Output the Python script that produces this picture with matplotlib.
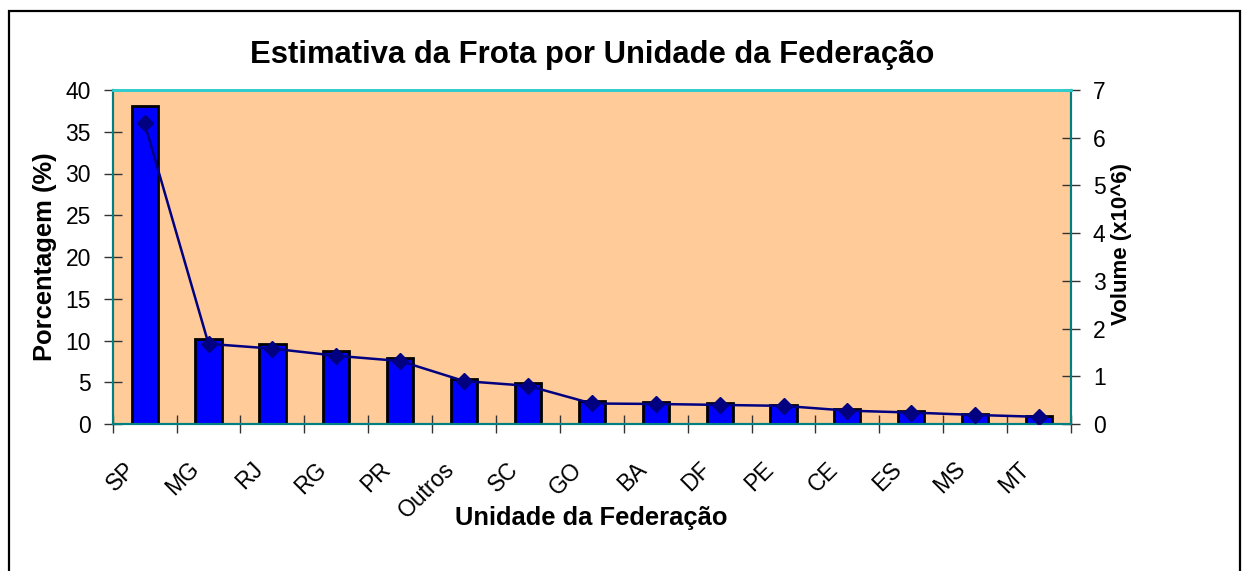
import matplotlib
matplotlib.use("Agg")
import matplotlib.pyplot as plt
from matplotlib.patches import Rectangle
from matplotlib.transforms import ScaledTranslation
import numpy as np

plt.rcParams['font.family'] = ['Liberation Sans', 'DejaVu Sans']

categories = ["SP", "MG", "RJ", "RG", "PR", "Outros", "SC", "GO", "BA", "DF", "PE", "CE", "ES", "MS", "MT"]
percent = [38.1, 10.2, 9.6, 8.7, 7.9, 5.4, 4.9, 2.8, 2.6, 2.5, 2.3, 1.8, 1.5, 1.2, 0.9]
volume = [6.3, 1.68, 1.58, 1.43, 1.32, 0.90, 0.80, 0.43, 0.42, 0.40, 0.38, 0.28, 0.24, 0.19, 0.15]

title = "Estimativa da Frota por Unidade da Federação"
xlabel = "Unidade da Federação"
ylabel_left = "Porcentagem (%)"
ylabel_right = "Volume (x10^6)"

fig = plt.figure(figsize=(12.47, 5.71), dpi=100)
fig.patch.set_facecolor("white")

W, H = 1247, 571
left, right, top, bottom = 112.7, 1071, 90, 424
ax = fig.add_axes([left / W, 1 - bottom / H, (right - left) / W, (bottom - top) / H])
ax.set_facecolor("#FFCC99")

x = np.arange(len(categories))
ax.bar(x, percent, width=0.41, color="#0000FF", edgecolor="black", linewidth=2, zorder=2)
ax.set_xlim(-0.5, len(categories) - 0.5)
ax.set_ylim(0, 40)
ax.set_yticks(np.arange(0, 41, 5))

ax2 = ax.twinx()
ax2.plot(x, volume, color="#000080", linewidth=1.8, marker="D", markersize=8,
         markerfacecolor="#000080", markeredgecolor="#000080", zorder=3)
ax2.set_ylim(0, 7)
ax2.set_yticks(np.arange(0, 8, 1))

# spines
for a in (ax, ax2):
    a.spines['top'].set_color("#33CCCC")
    a.spines['top'].set_linewidth(2)
    a.spines['left'].set_color("#008080")
    a.spines['right'].set_color("#008080")
    a.spines['bottom'].set_color("#008080")
    for s in ('left', 'right', 'bottom'):
        a.spines[s].set_linewidth(1.5)

# ticks
ax.set_xticks(np.arange(-0.5, len(categories), 1))
ax.set_xticklabels([])
ax.set_xticks(x, minor=True)
ax.set_xticklabels(categories, minor=True, rotation=45, ha='right', va='center',
                   rotation_mode='anchor', fontsize=16.5)
ax.tick_params(axis='x', which='major', direction='inout', length=13, width=1, color='#333333')
ax.tick_params(axis='x', which='minor', length=0, pad=30)
off = ScaledTranslation(-13 / 100, 0, fig.dpi_scale_trans)
for lab in ax.get_xticklabels(minor=True):
    lab.set_transform(lab.get_transform() + off)

ax.tick_params(axis='y', direction='inout', length=12.5, width=1, color='#333333', labelsize=16.5, pad=9.5)
ax2.tick_params(axis='y', direction='inout', length=12.5, width=1, color='#333333', labelsize=16.5, pad=9.5)

fig.text(592 / W, 1 - 63.3 / H, title, fontsize=22.3, fontweight='bold', ha='center', va='baseline')
fig.text(591.5 / W, 1 - 525 / H, xlabel, fontsize=18.4, fontweight='bold', ha='center', va='baseline')
fig.text(45 / W, 1 - 257 / H, ylabel_left, fontsize=18.4, fontweight='bold', ha='center', va='center', rotation=90)
fig.text(1121.7 / W, 1 - 244 / H, ylabel_right, fontsize=16, fontweight='bold', ha='center', va='center', rotation=90)

# outer chart border
fig.add_artist(Rectangle((8.5 / W, -0.05), (1240 - 8.5) / W, (1 - 11 / H) + 0.05,
                         transform=fig.transFigure, fill=False, edgecolor='black', linewidth=1.6))

fig.savefig("out.png", dpi=100)
